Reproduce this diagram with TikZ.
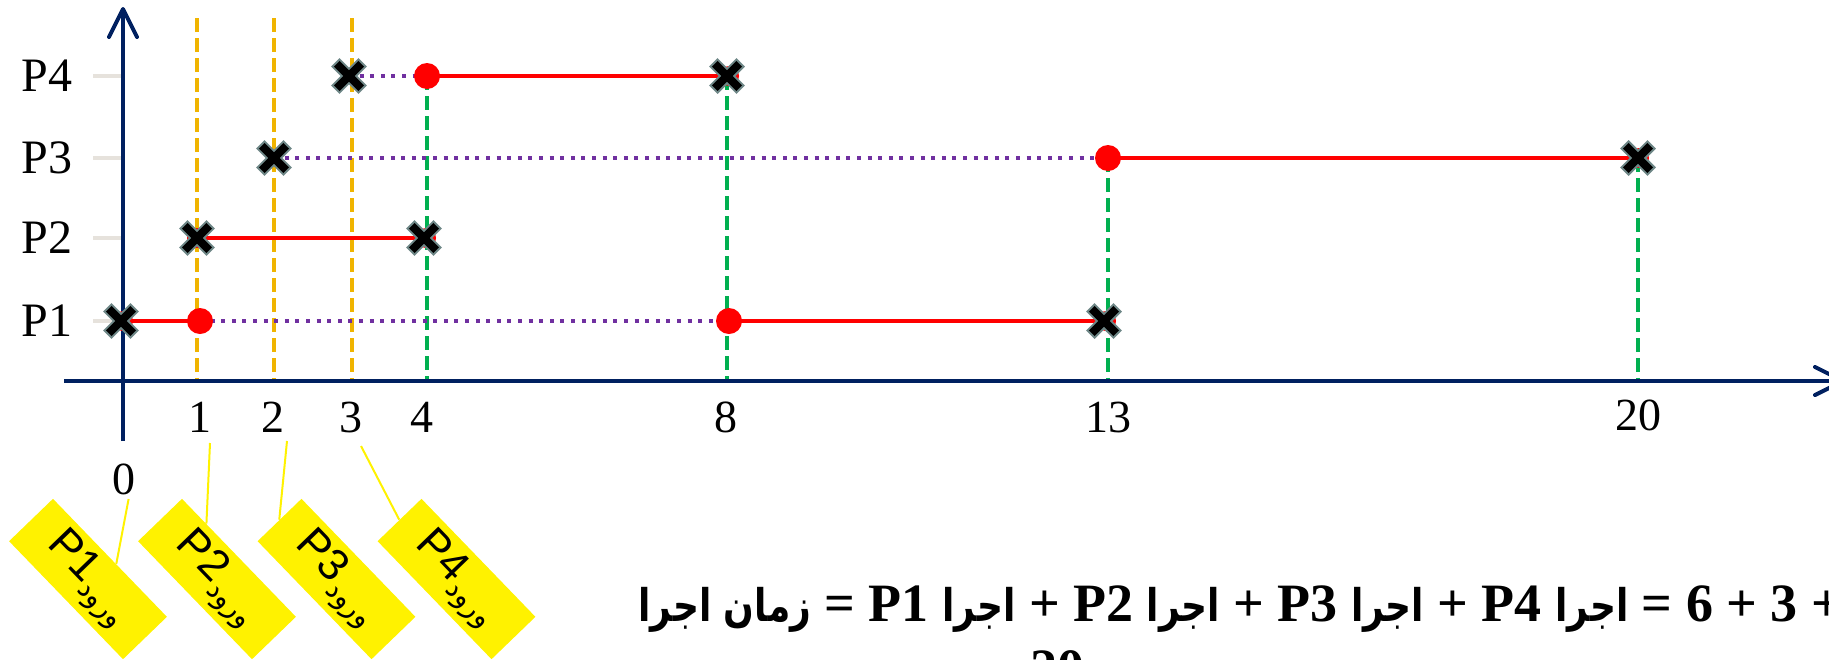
\documentclass[tikz,border=0pt]{standalone}
\usepackage{fontspec}
\setmainfont{Liberation Serif}
\setsansfont{Liberation Sans}
\newfontfamily\arabicfont[Script=Arabic]{DejaVu Sans}
\TeXXeTstate=1
\usetikzlibrary{arrows.meta,shapes.misc,calc}
\definecolor{axisblue}{HTML}{002060}
\definecolor{guideorange}{HTML}{F0B400}
\definecolor{guidegreen}{HTML}{00B050}
\definecolor{waitpurple}{HTML}{7030A0}
\definecolor{tickgray}{HTML}{E6E2DC}
\definecolor{xgray}{RGB}{110,135,135}
\newcommand{\eqar}[1]{\scalebox{0.8}[1]{\arabicfont\fontsize{22.5}{22.5}\selectfont\beginR #1\endR}}
\newcommand{\boxlabel}[1]{{\sffamily\fontsize{22}{22}\selectfont #1}\raisebox{-5pt}{\arabicfont\fontsize{14}{14}\selectfont\beginR ورود\endR}}
\pgfdeclarelayer{guides}
\pgfdeclarelayer{links}
\pgfsetlayers{guides,links,main}
\tikzset{
  xmark/.style={cross out, draw=xgray, double=black, double distance=4pt, line width=1pt, line cap=rect, minimum size=8.4pt, inner sep=0pt},
  reddot/.style={circle, fill=red, minimum size=13pt, inner sep=0pt},
  subdot/.style={circle, fill=red, minimum size=10pt, inner sep=0pt},
  runline/.style={draw=red, line width=2pt},
  waitline/.style={draw=waitpurple, line width=2pt, dash pattern=on 2pt off 3.3pt},
  orangeguide/.style={draw=guideorange, line width=2pt, dash pattern=on 7pt off 3pt},
  greenguide/.style={draw=guidegreen, line width=2pt, dash pattern=on 7pt off 3pt},
  axisline/.style={draw=axisblue, line width=2pt, -{Straight Barb[length=14pt,width=14pt,round]}},
  ytickline/.style={draw=tickgray, line width=2pt},
  ticklab/.style={font=\fontsize{23}{23}\selectfont, inner sep=0pt},
  rowlab/.style={font=\fontsize{24}{24}\selectfont, inner sep=0pt},
  callbox/.style={fill=yellow, minimum width=82pt, minimum height=30.5pt, inner sep=0pt, rotate=-46},
  callline/.style={draw=yellow, line width=1pt},
  eqtext/.style={font=\bfseries\fontsize{27}{30}\selectfont, inner sep=0pt}
}
\begin{document}
\begin{tikzpicture}[x=0.5pt,y=-0.5pt]
\useasboundingbox (0,0) rectangle (1829,659);
\clip (0,0) rectangle (1829,659);

% ---------- free ends ----------
\coordinate (o1t) at (197,18);  \coordinate (o1b) at (197,381);
\coordinate (o2t) at (274,18);  \coordinate (o2b) at (274,381);
\coordinate (o3t) at (352,18);  \coordinate (o3b) at (352,381);
\coordinate (g4) at (427,381);
\coordinate (g8) at (727,381);
\coordinate (g13) at (1108,381);
\coordinate (g20) at (1638,381);
\coordinate (yax0) at (123,441); \coordinate (yax1) at (123,7);
\coordinate (xax0) at (64,381);  \coordinate (xax1) at (1845,381);
\coordinate (tk1a) at (93,321); \coordinate (tk1b) at (123,321);
\coordinate (tk2a) at (93,238); \coordinate (tk2b) at (123,238);
\coordinate (tk3a) at (93,158); \coordinate (tk3b) at (123,158);
\coordinate (tk4a) at (93,76);  \coordinate (tk4b) at (123,76);
\coordinate (c1) at (128.6,499);
\coordinate (c2) at (210,443);
\coordinate (c3) at (287,441);
\coordinate (c4) at (361,446);

% ---------- axes ----------
\draw[ytickline] (tk1a) -- (tk1b);
\draw[ytickline] (tk2a) -- (tk2b);
\draw[ytickline] (tk3a) -- (tk3b);
\draw[ytickline] (tk4a) -- (tk4b);
\draw[axisline] (yax0) -- (yax1);
\draw[axisline] (xax0) -- (xax1);

% ---------- markers ----------
\node[subdot] (p1sr) at (123,321) {};
\node[subdot] (p1er) at (1106,321) {};
\node[subdot] (p2sr) at (197,238) {};
\node[subdot] (p2er) at (426,238) {};
\node[subdot] (p3er) at (1639,158) {};
\node[subdot] (p4er) at (729,76) {};

\node[xmark] (p1s) at (121,321) {};
\node[reddot] (p1a) at (200,321) {};
\node[reddot] (p1b) at (729,321) {};
\node[xmark] (p1e) at (1104,321) {};

\node[xmark] (p2s) at (197,238) {};
\node[xmark] (p2e) at (424,238) {};

\node[xmark] (p3s) at (274,158) {};
\node[reddot] (p3a) at (1108,158) {};
\node[xmark] (p3e) at (1638,158) {};

\node[xmark] (p4s) at (349,76) {};
\node[reddot] (p4a) at (427,76) {};
\node[xmark] (p4e) at (727,76) {};

% ---------- guides ----------
\begin{pgfonlayer}{guides}
\draw[orangeguide] (o1t) -- (o1b);
\draw[orangeguide] (o2t) -- (o2b);
\draw[orangeguide] (o3t) -- (o3b);
\draw[greenguide] (p4a.center) -- (g4);
\draw[greenguide] (p4e.center) -- (g8);
\draw[greenguide] (p3a.center) -- (g13);
\draw[greenguide] (p3e.center) -- (g20);
\end{pgfonlayer}

% ---------- process lines ----------
\begin{pgfonlayer}{links}
\draw[runline] (p1s.center) -- (p1a.center);
\draw[waitline] (p1a.center) -- (p1b.center);
\draw[runline] (p1b.center) -- (p1e.center);
\draw[runline] (p2s.center) -- (p2e.center);
\draw[waitline] (p3s.center) -- (p3a.center);
\draw[runline] (p3a.center) -- (p3e.center);
\draw[waitline] (p4s.center) -- (p4a.center);
\draw[runline] (p4a.center) -- (p4e.center);
\end{pgfonlayer}

% ---------- labels ----------
\node[rowlab] (lp1) at (47,321) {P1};
\node[rowlab] (lp2) at (47,238) {P2};
\node[rowlab] (lp3) at (47,158) {P3};
\node[rowlab] (lp4) at (47,76) {P4};

\node[ticklab] (t0) at (124,479) {0};
\node[ticklab] (t1) at (200,417) {1};
\node[ticklab] (t2) at (273,417) {2};
\node[ticklab] (t3) at (351,417) {3};
\node[ticklab] (t4) at (422,417) {4};
\node[ticklab] (t8) at (726,417) {8};
\node[ticklab] (t13) at (1108,417) {13};
\node[ticklab] (t20) at (1638,415) {20};

% ---------- callouts ----------
\node[callbox] (b1) at (88,579) {\boxlabel{P1}};
\node[callbox] (b2) at (217,579) {\boxlabel{P2}};
\node[callbox] (b3) at (336.5,579) {\boxlabel{P3}};
\node[callbox] (b4) at (456.5,579) {\boxlabel{P4}};
\draw[callline] (c1) -- ($(b1.north)!0.106!(b1.north east)$);
\draw[callline] (c2) -- ($(b2.north)!0.573!(b2.north west)$);
\draw[callline] (c3) -- (b3.west);
\draw[callline] (c4) -- (b4.west);

% ---------- equation ----------
\node[eqtext, anchor=base west] (eq) at (638,621) {\eqar{زمان اجرا} = P1 \eqar{اجرا} + P2 \eqar{اجرا} + P3 \eqar{اجرا} + P4 \eqar{اجرا} = 6 + 3 +};
\node[eqtext, anchor=base] (sum) at (1057,686) {20};
\end{tikzpicture}
\end{document}
